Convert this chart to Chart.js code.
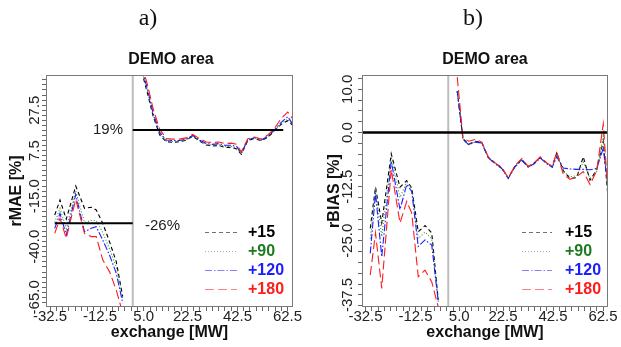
<!DOCTYPE html>
<html>
<head>
<meta charset="utf-8">
<script src="https://cdn.jsdelivr.net/npm/chart.js@4.4.1/dist/chart.umd.min.js"></script>
<style>
  body { margin: 0; background: #fff; }
  #wrap { position: relative; width: 621px; height: 347px; overflow: hidden; font-family: "Liberation Sans", Arial, sans-serif; }
  .panel { position: absolute; top: 0; height: 347px; }
  .tag { position: absolute; transform: translate(-50%, -50%); font: 24px "Liberation Serif", "Times New Roman", serif; color: #111; white-space: nowrap; }
  .ttl { position: absolute; transform: translate(-50%, -50%); font: bold 16px "Liberation Sans", Arial, sans-serif; color: #111; white-space: nowrap; }
</style>
</head>
<body>
<div id="wrap">
  <div class="panel" style="left:0;width:310px"><canvas id="chartMae" width="310" height="347"></canvas></div>
  <div class="panel" style="left:310px;width:311px"><canvas id="chartBias" width="311" height="347"></canvas></div>
  <div class="tag" style="left:148px;top:17px">a)</div>
  <div class="tag" style="left:473px;top:17px">b)</div>
  <div class="ttl" style="left:171px;top:59px">DEMO area</div>
  <div class="ttl" style="left:485px;top:59px">DEMO area</div>
</div>
<script>
// Skill des prévisions par horizon (+15 ... +180) en fonction de l'échange [MW]
// Partie négative / partie positive séparées par un trait gris à ~0 MW
const leadTimes = ['+15', '+90', '+120', '+180'];
const xLeft = [-30.6, -28.5, -26, -22.2, -18.7, -16, -14, -11.4, -8.7, -6, -3.4];
const xRight = [4.2, 6.5, 8.8, 11.4, 14, 16.6, 19.3, 22, 24.6, 27.3, 30, 32.6, 35, 37.4, 40, 42.2, 44, 46.6, 49.3, 52, 54.6, 57.3, 60, 62.6, 64.4];

const xTickLabels = [-32.5, -12.5, 5.0, 22.5, 42.5, 62.5];
const maeTickLabels = [27.5, 7.5, -15.0, -40.0, -65.0];
const biasTickLabels = [10.0, 0.0, -12.5, -25.0, -37.5];

// a) rMAE
const maeNeg15 = [-24.3, -16.9, -26.4, -10.0, -21.0, -20.5, -21.8, -28.4, -37.5, -47.4, -64.7];
const maeNeg90 = [-28.0, -21.0, -31.0, -12.5, -28.0, -27.0, -27.0, -33.0, -41.0, -50.0, -66.0];
const maeNeg120 = [-30.9, -23.5, -34.2, -14.1, -32.6, -30.9, -30.1, -36.7, -44.1, -53.1, -67.9];
const maeNeg180 = [-33.4, -25.9, -35.8, -16.6, -33.4, -35.0, -35.0, -46.5, -52.3, -61.4, -72.9];
const maePos15 = [46.5, 35.8, 24.3, 15.2, 11.9, 11.6, 11.9, 12.7, 14.7, 12.2, 10.3, 9.8, 10.1, 9.1, 9.1, 8.3, 5.7, 12.4, 13.6, 12.4, 14.1, 17.3, 20.6, 22.3, 20.2];
const maePos90 = [47, 37, 25, 15.8, 12.3, 12, 12.2, 12.9, 14.8, 12.5, 10.6, 10.2, 10.5, 9.6, 9.6, 8.8, 5.9, 12.6, 13.8, 12.6, 14.3, 17.5, 21, 23, 20.5];
const maePos120 = [48, 38, 26, 16.5, 12.8, 12.5, 12.5, 13.2, 15, 12.8, 11, 10.6, 11, 10.2, 10.2, 9.5, 6.2, 12.8, 14, 12.8, 14.6, 17.8, 21.5, 24.3, 21];
const maePos180 = [50, 40, 28, 18, 13.5, 13.2, 13.2, 13.8, 15.5, 13.5, 11.8, 11.5, 11.8, 11, 11.2, 10.6, 6.8, 13.4, 14.2, 13.2, 15.2, 18.5, 23.5, 26.6, 23.5];
const maeRefNeg = -28.4;   // "-26%"
const maeRefPos = 17.7;    // "19%"

// b) rBIAS
const biasNeg15 = [-22.1, -12.6, -20.9, -4.9, -12.6, -11.1, -12.8, -22.9, -21.5, -23.2, -38.7];
const biasNeg90 = [-24.5, -13.3, -24.0, -5.6, -15.0, -11.5, -13.2, -24.5, -23.0, -24.5, -38.9];
const biasNeg120 = [-27.9, -14.0, -28.7, -6.6, -17.8, -12.0, -13.6, -26.3, -24.8, -26.0, -39.1];
const biasNeg180 = [-32.9, -23.2, -36.0, -8.5, -20.9, -15.9, -18.6, -33.3, -31.8, -34.5, -40.3];
const biasPos15 = [9.6, -1.4, -2.7, -2.0, -2.3, -5.8, -7.0, -8.2, -10.5, -7.8, -6.2, -7.9, -7.0, -5.8, -7.0, -7.9, -4.7, -8.8, -10.6, -10.4, -5.6, -11.0, -8.6, -2.0, -14.3];
const biasPos90 = [9.4, -1.5, -2.8, -2.1, -2.3, -5.8, -7.1, -8.2, -10.5, -7.9, -6.3, -7.9, -7.1, -5.8, -7.1, -8.0, -5.0, -8.9, -10.2, -10.0, -6.8, -10.6, -9.0, -0.8, -13.0];
const biasPos120 = [9.6, -1.6, -2.8, -2.2, -2.4, -5.8, -7.2, -8.3, -10.6, -7.9, -6.4, -8.0, -7.2, -5.9, -7.2, -8.0, -5.6, -8.2, -8.4, -8.5, -8.5, -8.6, -8.3, -3.6, -12.0];
const biasPos180 = [12.8, -1.2, -2.0, -1.6, -2.2, -5.6, -7.0, -8.0, -10.5, -7.6, -6.0, -7.8, -7.0, -5.6, -7.0, -7.8, -4.5, -9.6, -10.8, -10.2, -9.0, -12.0, -8.8, 2.0, -13.0];
const biasRef = 0;

const FONT = '"Liberation Sans", Arial, sans-serif';
const STYLE = [
  { color: '#000000', dash: [4, 3], text: '#000000' },
  { color: '#3a963a', dash: [1, 2], text: '#1f7a1f' },
  { color: '#1c1cff', dash: [7, 2, 1.5, 2], text: '#1c1cff' },
  { color: '#ff1c1c', dash: [9, 4], text: '#ff1c1c' }
];
const DIVIDER_X = 0.6;

Chart.defaults.font.family = FONT;

function points(neg, pos) {
  return xLeft.map((x, i) => ({ x, y: neg[i] }))
    .concat([{ x: DIVIDER_X, y: null }])
    .concat(xRight.map((x, i) => ({ x, y: pos[i] })));
}

function seriesSets(negs, pos) {
  return leadTimes.map((lt, i) => ({
    label: lt,
    data: points(negs[i], pos[i]),
    borderColor: STYLE[i].color,
    borderDash: STYLE[i].dash,
    borderWidth: 1.1,
    pointRadius: 0,
    order: 4 - i
  }));
}

function refLine(x0, x1, y, width) {
  return { label: 'ref', data: [{ x: x0, y }, { x: x1, y }], borderColor: '#000', borderWidth: width, pointRadius: 0, order: -1 };
}

// ticks tous les 2.5, étiquettes seulement aux valeurs listées
function everyStep(from, to, step) {
  const out = [];
  for (let v = from; v >= to - 1e-9; v -= step) out.push({ value: v });
  return out;
}

const boxPlugin = {
  id: 'box',
  afterDraw(chart) {
    const { ctx, chartArea: a } = chart;
    ctx.save();
    ctx.strokeStyle = '#7a7a7a';
    ctx.lineWidth = 1;
    ctx.strokeRect(a.left + 0.5, a.top + 0.5, a.right - a.left - 1, a.bottom - a.top - 1);
    ctx.restore();
  }
};

// étiquettes Y tournées à 90° (lecture de bas en haut)
const yLabelPlugin = {
  id: 'yLabels',
  afterDraw(chart, args, opts) {
    const { ctx, chartArea: a } = chart;
    const y = chart.scales.y;
    ctx.save();
    ctx.font = `15px ${FONT}`;
    ctx.fillStyle = '#222';
    ctx.textAlign = 'center';
    ctx.textBaseline = 'middle';
    opts.values.forEach(v => {
      ctx.save();
      ctx.translate(a.left - opts.offset, y.getPixelForValue(v));
      ctx.rotate(-Math.PI / 2);
      ctx.fillText(v.toFixed(1), 0, 0);
      ctx.restore();
    });
    ctx.restore();
  }
};

const notePlugin = {
  id: 'notes',
  afterDraw(chart, args, opts) {
    const { ctx, scales } = chart;
    ctx.save();
    ctx.font = `15px ${FONT}`;
    ctx.fillStyle = '#222';
    ctx.textBaseline = 'middle';
    (opts.items || []).forEach(n => {
      ctx.textAlign = n.align;
      ctx.fillText(n.text, scales.x.getPixelForValue(n.x), scales.y.getPixelForValue(n.y));
    });
    ctx.restore();
  }
};

const legendPlugin = {
  id: 'lineLegend',
  afterDraw(chart, args, opts) {
    const { ctx } = chart;
    ctx.save();
    ctx.font = `bold 16px ${FONT}`;
    ctx.textBaseline = 'middle';
    ctx.textAlign = 'left';
    leadTimes.forEach((lt, i) => {
      const y = opts.top + i * opts.step;
      ctx.beginPath();
      ctx.globalAlpha = 0.55;
      ctx.setLineDash(STYLE[i].dash);
      ctx.strokeStyle = STYLE[i].color;
      ctx.lineWidth = 1;
      ctx.moveTo(opts.x0, y + 0.5);
      ctx.lineTo(opts.x1, y + 0.5);
      ctx.stroke();
      ctx.setLineDash([]);
      ctx.globalAlpha = 1;
      ctx.fillStyle = STYLE[i].text;
      ctx.fillText(lt, opts.xText, y + 1);
    });
    ctx.restore();
  }
};

function makePanel(id, p) {
  return new Chart(document.getElementById(id), {
    type: 'line',
    data: {
      datasets: [
        ...seriesSets(p.negs, p.pos),
        ...p.refs,
        { label: 'div', data: [{ x: DIVIDER_X, y: p.yMin }, { x: DIVIDER_X, y: p.yMax }], borderColor: '#bdbdbd', borderWidth: 2, pointRadius: 0, order: 10 }
      ]
    },
    options: {
      responsive: false,
      animation: false,
      events: [],
      layout: { padding: { top: 75, right: p.padRight, left: 0, bottom: 0 } },
      plugins: {
        legend: { display: false },
        tooltip: { enabled: false },
        yLabels: { values: p.yLabels, offset: p.yLabelOffset },
        notes: { items: p.notes },
        lineLegend: p.legend
      },
      scales: {
        x: {
          type: 'linear',
          min: p.xMin,
          max: p.xMax,
          afterFit: s => { s.height = 40; },
          afterBuildTicks: s => { s.ticks = everyStep(62.5, -32.5, 2.5).reverse(); },
          grid: { drawOnChartArea: false, tickLength: 4, tickColor: '#666' },
          border: { display: false },
          ticks: {
            autoSkip: false, maxRotation: 0, padding: -3, color: '#222', font: { size: 15 },
            callback: v => xTickLabels.includes(v) ? v.toFixed(1) : ''
          },
          title: { display: true, text: 'exchange [MW]', color: '#111', font: { size: 16, weight: 'bold' }, padding: { bottom: 4.4, top: 0 } }
        },
        y: {
          type: 'linear',
          min: p.yMin,
          max: p.yMax,
          afterFit: s => { s.width = p.yWidth; },
          afterBuildTicks: s => { s.ticks = everyStep(p.yTickTop, p.yMin, 2.5); },
          grid: { drawOnChartArea: false, tickLength: 4, tickColor: '#666' },
          border: { display: false },
          ticks: { display: false },
          title: { display: true, text: p.yTitle, color: '#111', font: { size: 16, weight: 'bold' }, padding: { top: p.yTitlePad, bottom: 0 } }
        }
      }
    },
    plugins: [boxPlugin, yLabelPlugin, notePlugin, legendPlugin]
  });
}

makePanel('chartMae', {
  negs: [maeNeg15, maeNeg90, maeNeg120, maeNeg180],
  pos: [maePos15, maePos90, maePos120, maePos180],
  refs: [refLine(-30.6, DIVIDER_X, maeRefNeg, 2.2), refLine(DIVIDER_X, 60.8, maeRefPos, 2.2)],
  notes: [
    { text: '19%', x: -3.3, y: maeRefPos, align: 'right' },
    { text: '-26%', x: 5.5, y: -29.7, align: 'left' }
  ],
  xMin: -34.1, xMax: 64.7,
  yMin: -69.8, yMax: 44.9, yTickTop: 42.5,
  yWidth: 46, padRight: 17,
  yLabels: maeTickLabels, yLabelOffset: 11,
  yTitle: 'rMAE [%]', yTitlePad: 7.4,
  legend: { x0: 205, x1: 237, xText: 248, top: 232, step: 19 }
});

makePanel('chartBias', {
  negs: [biasNeg15, biasNeg90, biasNeg120, biasNeg180],
  pos: [biasPos15, biasPos90, biasPos120, biasPos180],
  refs: [refLine(-40, 70, biasRef, 2.6)],
  notes: [],
  xMin: -33.9, xMax: 64.5,
  yMin: -40.3, yMax: 13.3, yTickTop: 12.5,
  yWidth: 52, padRight: 13,
  yLabels: biasTickLabels, yLabelOffset: 14,
  yTitle: 'rBIAS [%]', yTitlePad: 15.4,
  legend: { x0: 212, x1: 242, xText: 255, top: 232, step: 19 }
});
</script>
</body>
</html>
